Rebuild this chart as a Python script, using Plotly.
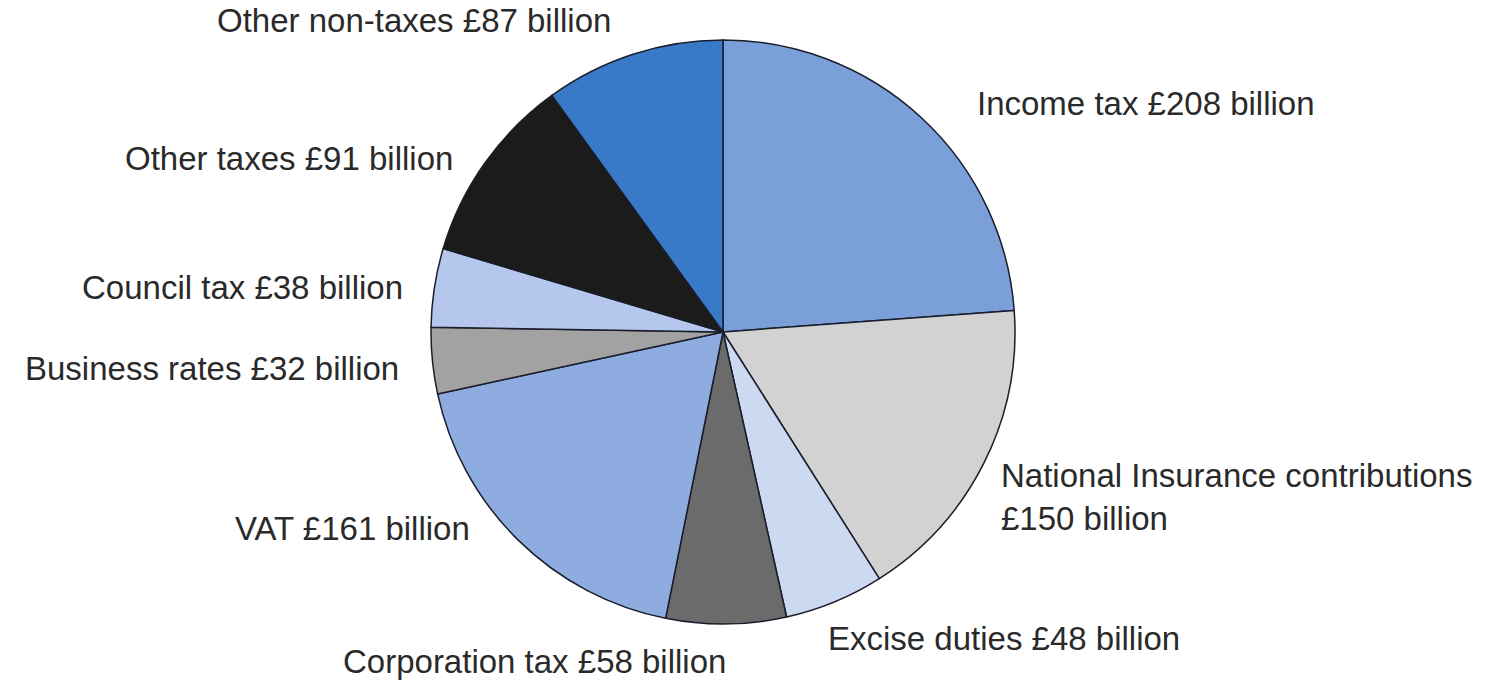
import plotly.graph_objects as go

categories = ["Income tax", "National Insurance contributions", "Excise duties",
              "Corporation tax", "VAT", "Business rates", "Council tax",
              "Other taxes", "Other non-taxes"]
values = [208, 150, 48, 58, 161, 32, 38, 91, 87]
colors = ["#7A9FD9", "#D2D2D2", "#CCDAF1", "#6B6B6B", "#8EACE0",
          "#A2A2A2", "#B5C7EC", "#1B1B1B", "#3879C8"]
label_texts = ["Income tax £208 billion",
               "National Insurance contributions<br>£150 billion",
               "Excise duties £48 billion",
               "Corporation tax £58 billion",
               "VAT £161 billion",
               "Business rates £32 billion",
               "Council tax £38 billion",
               "Other taxes £91 billion",
               "Other non-taxes £87 billion"]

# page body margin offset (browser default 8px)
OFF = 8
W, H = 1511 - OFF, 680 - OFF
cx, cy, r = 723 - OFF, 332 - OFF, 292

# label anchor positions in reference pixels (x, y_center, anchor)
label_pos = [(975, 103, "left"), (999, 497, "left"), (826, 638, "left"),
             (728, 661, "right"), (472, 528, "right"), (401, 368, "right"),
             (405, 287, "right"), (455, 158, "right"), (613, 20, "right")]

fig = go.Figure(go.Pie(
    labels=categories, values=values, sort=False, direction="clockwise",
    rotation=0, textinfo="none", hoverinfo="label+value",
    marker=dict(colors=colors, line=dict(color="#1a1d2b", width=1.5)),
    domain=dict(x=[(cx - r) / W, (cx + r) / W],
                y=[(H - cy - r) / H, (H - cy + r) / H]),
    showlegend=False,
))

for txt, (px, py, anc) in zip(label_texts, label_pos):
    fig.add_annotation(x=(px - OFF) / W, y=1 - (py - OFF) / H, xref="paper", yref="paper",
                       text=txt, showarrow=False, xanchor=anc, yanchor="middle",
                       align="left",
                       font=dict(family="Liberation Sans, Arial", size=33, color="#2a2a2a"))

fig.update_layout(width=W, height=H, margin=dict(l=0, r=0, t=0, b=0),
                  paper_bgcolor="white", plot_bgcolor="white")
fig.write_html("out.html")
